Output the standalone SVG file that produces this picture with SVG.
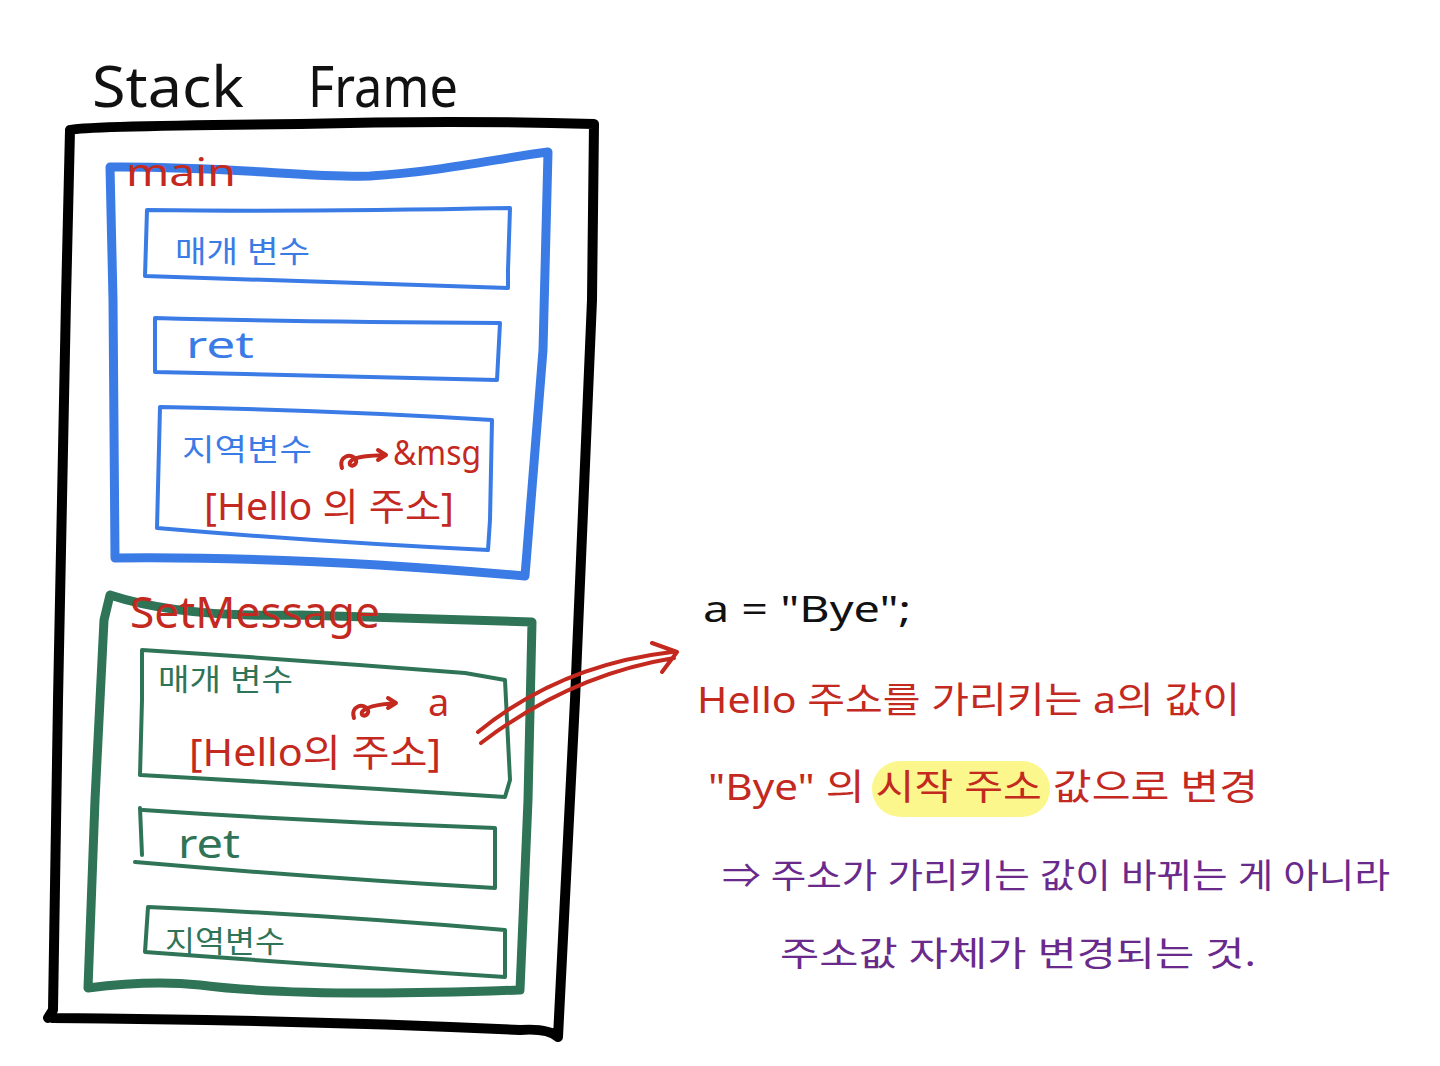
<svg xmlns="http://www.w3.org/2000/svg" width="1440" height="1066" viewBox="0 0 1440 1066">
<style>
.frame{fill:none;stroke:#000;stroke-width:10;stroke-linejoin:round;stroke-linecap:round}
.blueB{fill:none;stroke:#3a7be6;stroke-width:9;stroke-linejoin:round;stroke-linecap:round}
.blueS{fill:none;stroke:#3a7be6;stroke-width:4;stroke-linejoin:round;stroke-linecap:round}
.greenB{fill:none;stroke:#2f7457;stroke-width:9;stroke-linejoin:round;stroke-linecap:round}
.greenS{fill:none;stroke:#2f7457;stroke-width:4;stroke-linejoin:round;stroke-linecap:round}
.red{fill:none;stroke:#c4291f;stroke-width:4;stroke-linejoin:round;stroke-linecap:round}
text{font-family:"Noto Sans","Noto Sans CJK KR",sans-serif}
.t-black{fill:#111}
.t-red{fill:#c4291f}
.t-blue{fill:#3a7be6}
.t-green{fill:#2f7457}
.t-purple{fill:#6a2a8c}
</style>
<rect width="1440" height="1066" fill="#fff"/>

<g id="title">
<text class="t-black" x="92" y="107" font-size="56" textLength="152" lengthAdjust="spacingAndGlyphs">Stack</text>
<text class="t-black" x="308" y="107" font-size="56" textLength="150" lengthAdjust="spacingAndGlyphs">Frame</text>
</g>

<g id="stack-frame">
<path class="frame" d="M70,130 Q80,126 300,124 Q450,120 594,124 L592,300 L575,700 L558,1037 Q548,1028 520,1030 Q300,1020 52,1018 M48,1018 L53,1010 L58,700 L66,300 L70,130"/>
</g>

<g id="main">
<path class="blueB" d="M110,167 C230,166 310,178 370,176 C440,172 500,158 548,152 L543,350 L525,576 Q300,556 115,558 L113,300 Z"/>
<text class="t-red" x="126" y="186" font-size="38" textLength="110" lengthAdjust="spacingAndGlyphs">main</text>
</g>

<g id="main-params">
<path class="blueS" d="M147,210 Q300,212 510,208 L508,270 L508,288 Q320,282 145,276 Z"/>
<text class="t-blue" x="175" y="262" font-size="30" textLength="135" lengthAdjust="spacingAndGlyphs">매개 변수</text>
</g>

<g id="main-ret">
<path class="blueS" d="M155,318 Q300,322 500,323 L497,380 Q320,376 155,372 Z"/>
<text class="t-blue" x="186" y="358" font-size="36" textLength="68" lengthAdjust="spacingAndGlyphs">ret</text>
</g>

<g id="main-locals">
<path class="blueS" d="M160,407 Q330,410 492,420 L490,520 L488,550 Q320,542 157,528 Z"/>
<text class="t-blue" x="182" y="460" font-size="30" textLength="130" lengthAdjust="spacingAndGlyphs">지역변수</text>
<path class="red" d="M342,468 C338,456 352,452 356,460 C358,466 348,468 350,462 C354,456 370,456 386,455 M378,450 L386,455 L378,460"/>
<text class="t-red" x="393" y="465" font-size="34" textLength="88" lengthAdjust="spacingAndGlyphs">&amp;msg</text>
<text class="t-red" x="204" y="520" font-size="38" textLength="250" lengthAdjust="spacingAndGlyphs">[Hello 의 주소]</text>
</g>

<g id="setmessage">
<path class="greenB" d="M110,595 Q180,618 300,615 Q450,620 532,622 L528,800 L520,990 Q300,998 200,985 Q150,980 88,988 L95,800 L104,620 Z"/>
<text class="t-red" x="130" y="628" font-size="44" textLength="250" lengthAdjust="spacingAndGlyphs">SetMessage</text>
</g>

<g id="setmessage-params">
<path class="greenS" d="M142,650 Q300,660 465,673 L505,680 L510,780 L505,797 Q320,785 140,775 L142,700 Z"/>
<text class="t-green" x="158" y="690" font-size="30" textLength="135" lengthAdjust="spacingAndGlyphs">매개 변수</text>
<path class="red" d="M354,718 C350,706 364,702 368,710 C370,716 360,718 362,712 C366,706 382,704 396,703 M388,698 L396,703 L388,708"/>
<text class="t-red" x="428" y="716" font-size="38">a</text>
<text class="t-red" x="189" y="766" font-size="38" textLength="252" lengthAdjust="spacingAndGlyphs">[Hello의 주소]</text>
</g>

<g id="setmessage-ret">
<path class="greenS" d="M140,808 L142,855 M143,810 Q320,822 495,828 L495,888 Q320,878 135,862"/>
<text class="t-green" x="178" y="858" font-size="40" textLength="62" lengthAdjust="spacingAndGlyphs">ret</text>
</g>

<g id="setmessage-locals">
<path class="greenS" d="M148,907 Q330,915 505,930 L505,977 Q320,965 145,952 Z"/>
<text class="t-green" x="165" y="952" font-size="30" textLength="120" lengthAdjust="spacingAndGlyphs">지역변수</text>
</g>

<g id="connectors">
<path class="red" d="M478,732 Q560,665 672,652 M481,743 Q570,675 674,658 M652,643 L677,652 L662,672"/>
</g>

<g id="explanation">
<text class="t-black" x="703" y="622" font-size="36" textLength="208" lengthAdjust="spacingAndGlyphs">a = "Bye";</text>
<text class="t-red" x="697" y="713" font-size="36" textLength="543" lengthAdjust="spacingAndGlyphs">Hello 주소를 가리키는 a의 값이</text>
<rect x="872" y="761" width="178" height="56" rx="28" fill="#fbf78c"/>
<text class="t-red" x="708" y="800" font-size="36" textLength="550" lengthAdjust="spacingAndGlyphs">"Bye" 의 시작 주소 값으로 변경</text>
<text class="t-purple" x="722" y="888" font-size="34" textLength="668" lengthAdjust="spacingAndGlyphs">⇒ 주소가 가리키는 값이 바뀌는 게 아니라</text>
<text class="t-purple" x="780" y="966" font-size="34" textLength="476" lengthAdjust="spacingAndGlyphs">주소값 자체가 변경되는 것.</text>
</g>
</svg>
